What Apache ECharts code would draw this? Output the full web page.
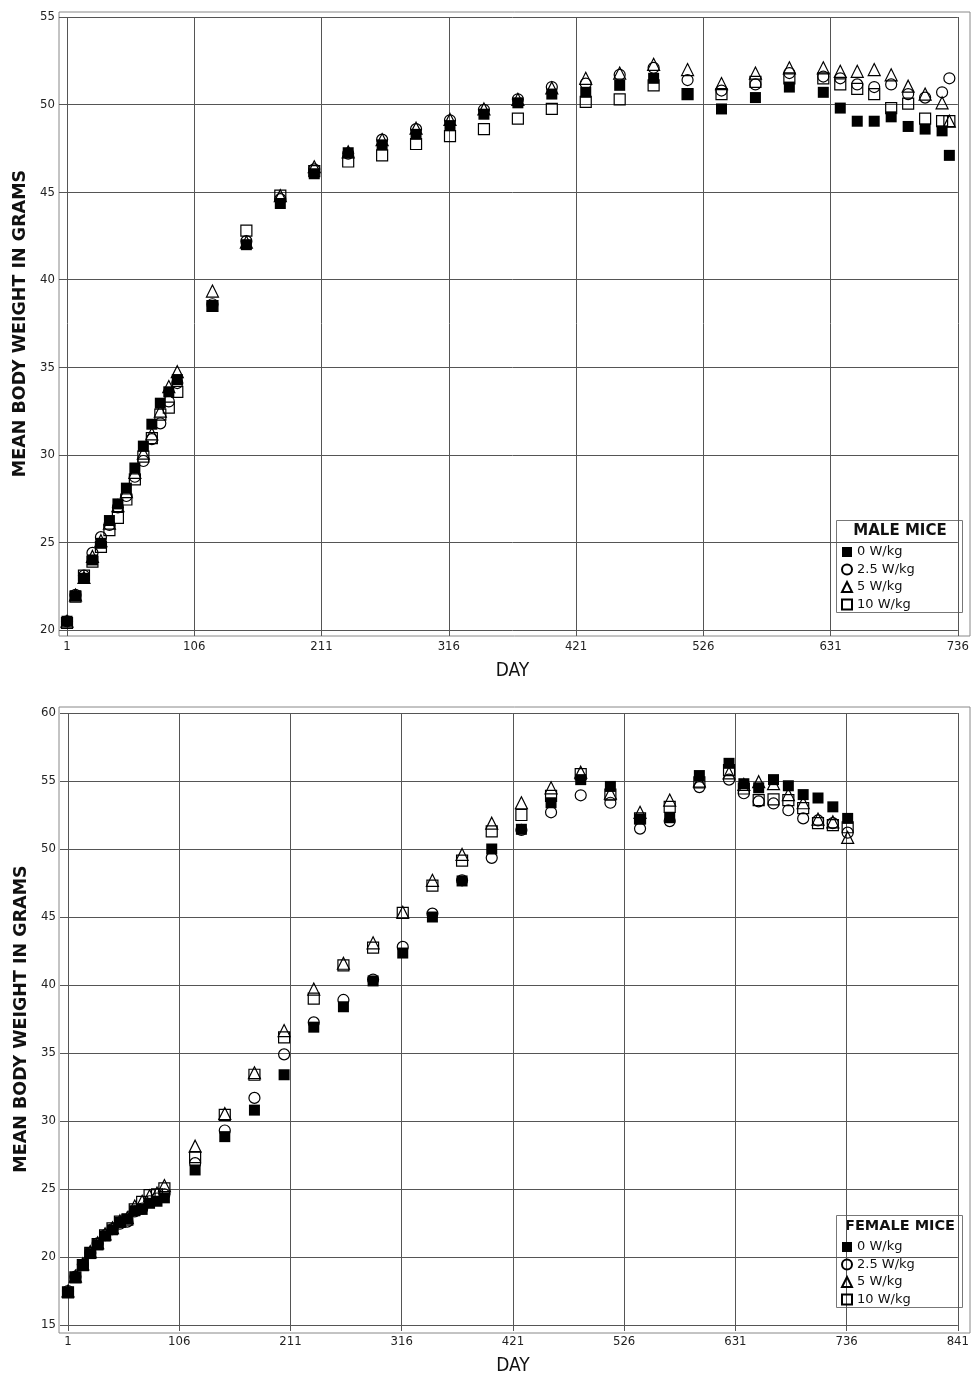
<!DOCTYPE html>
<html>
<head>
<meta charset="utf-8">
<script src="https://cdn.jsdelivr.net/npm/echarts@6/dist/echarts.min.js"></script>
<style>
  html, body { margin: 0; padding: 0; background: #fff; }
  #chart { width: 972px; height: 1377px; }
</style>
</head>
<body>
<div id="chart"></div>
<script>
// ---- data ----
const seriesNames = ["0 W/kg", "2.5 W/kg", "5 W/kg", "10 W/kg"];

// MALE MICE
const maleDays = [1, 8, 15, 22, 29, 36, 43, 50, 57, 64, 71, 78, 85, 92, 121, 149, 177, 205, 233, 261, 289, 317, 345, 373, 401, 429, 457, 485, 513, 541, 569, 597, 625, 639, 653, 667, 681, 695, 709, 723, 729];
const male0 = [20.5, 21.95, 22.95, 24.0, 24.95, 26.25, 27.2, 28.1, 29.25, 30.5, 31.75, 32.95, 33.6, 34.3, 38.5, 42.0, 44.35, 46.05, 47.25, 47.7, 48.3, 48.8, 49.45, 50.1, 50.6, 50.7, 51.1, 51.5, 50.6, 49.75, 50.4, 51.0, 50.7, 49.8, 49.05, 49.05, 49.3, 48.75, 48.6, 48.5, 47.1];
const male25 = [20.5, 22.0, 23.1, 24.4, 25.3, 26.0, 27.0, 27.65, 28.75, 29.65, 30.9, 31.8, 33.05, 34.1, 38.6, 42.2, 44.6, 46.3, 47.2, 48.0, 48.6, 49.1, 49.7, 50.3, 51.0, 51.2, 51.7, 52.1, 51.4, 50.8, 51.15, 51.8, 51.6, 51.5, 51.15, 51.0, 51.15, 50.6, 50.4, 50.7, 51.5];
const male5 = [20.5, 22.0, 23.0, 24.2, 25.1, 26.1, 27.1, 27.9, 29.0, 30.1, 31.2, 32.5, 33.9, 34.75, 39.35, 42.15, 44.8, 46.45, 47.3, 48.0, 48.65, 49.15, 49.75, 50.3, 50.95, 51.5, 51.8, 52.3, 52.0, 51.2, 51.8, 52.1, 52.1, 51.9, 51.9, 52.0, 51.7, 51.05, 50.6, 50.1, 49.05];
const male10 = [20.4, 21.9, 23.1, 23.9, 24.75, 25.7, 26.4, 27.45, 28.6, 29.9, 30.95, 32.3, 32.7, 33.6, 38.5, 42.8, 44.8, 46.2, 46.75, 47.1, 47.75, 48.2, 48.6, 49.2, 49.75, 50.15, 50.3, 51.1, 50.6, 50.6, 51.3, 51.5, 51.5, 51.15, 50.9, 50.6, 49.8, 50.05, 49.2, 49.05, 49.05];

// FEMALE MICE
const femaleDays = [1, 8, 15, 22, 29, 36, 43, 50, 57, 64, 71, 78, 85, 92, 121, 149, 177, 205, 233, 261, 289, 317, 345, 373, 401, 429, 457, 485, 513, 541, 569, 597, 625, 639, 653, 667, 681, 695, 709, 723, 737];
const female0 = [17.4, 18.5, 19.4, 20.25, 20.9, 21.55, 22.0, 22.55, 22.8, 23.4, 23.5, 23.95, 24.1, 24.35, 26.4, 28.85, 30.8, 33.4, 36.9, 38.4, 40.3, 42.35, 45.0, 47.65, 50.0, 51.45, 53.4, 55.1, 54.6, 52.2, 52.3, 55.4, 56.3, 54.8, 54.5, 55.1, 54.65, 54.0, 53.75, 53.1, 52.25];
const female25 = [17.5, 18.55, 19.45, 20.3, 21.0, 21.6, 22.05, 22.45, 22.6, 23.35, 23.55, 24.1, 24.3, 24.6, 26.9, 29.3, 31.7, 34.9, 37.25, 38.9, 40.4, 42.8, 45.25, 47.7, 49.35, 51.4, 52.7, 53.95, 53.4, 51.5, 52.05, 54.55, 55.1, 54.1, 53.5, 53.35, 52.85, 52.25, 52.1, 51.9, 51.2];
const female5 = [17.5, 18.6, 19.5, 20.4, 21.05, 21.7, 22.15, 22.65, 22.9, 23.75, 24.1, 24.5, 24.7, 25.25, 28.15, 30.55, 33.55, 36.65, 39.7, 41.6, 43.1, 45.35, 47.7, 49.6, 51.9, 53.4, 54.5, 55.65, 54.1, 52.7, 53.6, 55.0, 55.6, 54.75, 54.95, 54.8, 54.0, 53.4, 52.2, 52.0, 50.85];
const female10 = [17.4, 18.5, 19.4, 20.3, 20.95, 21.6, 22.1, 22.6, 22.75, 23.5, 24.05, 24.55, 24.6, 25.05, 27.35, 30.45, 33.4, 36.15, 39.0, 41.45, 42.75, 45.3, 47.3, 49.15, 51.3, 52.5, 53.9, 55.5, 54.0, 52.25, 53.1, 54.9, 55.8, 54.45, 53.6, 53.65, 53.6, 53.0, 51.9, 51.75, 51.6];

// axis ranges / ticks
const maleX = { min: 1, max: 736, step: 105 };
const maleY = { min: 20, max: 55, step: 5 };
const femaleX = { min: 1, max: 841, step: 105 };
const femaleY = { min: 15, max: 60, step: 5 };

// ---- styling ----
const tickFont = "'DejaVu Sans Condensed', 'DejaVu Sans', sans-serif";
const gridColor = "#555";
const frameColor = "#888";
const symbols = ["rect", "circle", "triangle", "rect"];
const symbolSizes = [11, 11, 12, 11];
const filled = [true, false, false, false];

const zip = (xs, ys) => xs.map((x, i) => [x, ys[i]]);

function frameGrid(left, top, width, height) {
  return { left, top, width, height, show: true, borderColor: frameColor, borderWidth: 1, backgroundColor: "transparent" };
}

function valueXAxis(gridIndex, r) {
  return {
    gridIndex, type: "value", min: r.min, max: r.max, interval: r.step,
    axisLine: { show: false },
    axisTick: { show: true, length: 6, lineStyle: { color: gridColor } },
    splitLine: { show: true, lineStyle: { color: gridColor, width: 1 } },
    axisLabel: { margin: 10, fontSize: 13, color: "#222", fontFamily: tickFont },
    name: "DAY", nameLocation: "middle", nameGap: 32,
    nameTextStyle: { fontSize: 19, color: "#111", fontFamily: tickFont }
  };
}

function valueYAxis(gridIndex, r) {
  return {
    gridIndex, type: "value", min: r.min, max: r.max, interval: r.step,
    axisLine: { show: false },
    axisTick: { show: true, length: 8, lineStyle: { color: gridColor } },
    splitLine: { show: true, lineStyle: { color: gridColor, width: 1 } },
    axisLabel: { margin: 12, fontSize: 13, color: "#222", fontFamily: tickFont },
    name: "MEAN BODY WEIGHT IN GRAMS", nameLocation: "middle", nameGap: 38,
    nameTextStyle: { fontSize: 17.5, fontWeight: "bold", color: "#111", fontFamily: "'DejaVu Sans', sans-serif" }
  };
}

function hiddenAxis(gridIndex) {
  return { gridIndex, type: "value", show: false, min: 0, max: 1 };
}

function makeSeries(axisIdx, days, groups) {
  return groups.map((vals, i) => ({
    name: seriesNames[i],
    type: "scatter",
    xAxisIndex: axisIdx, yAxisIndex: axisIdx,
    clip: false,
    symbol: symbols[i],
    symbolSize: symbolSizes[i],
    itemStyle: filled[i]
      ? { color: "#000", borderColor: "#000", borderWidth: 0, opacity: 1 }
      : { color: "rgba(255,255,255,0)", borderColor: "#000", borderWidth: 1.2, opacity: 1 },
    data: zip(days, vals)
  }));
}

function legendBlock(top) {
  return {
    orient: "vertical", left: 841, top: top,
    itemWidth: 10, itemHeight: 10, itemGap: 3.5, padding: 0,
    selectedMode: false,
    data: seriesNames,
    textStyle: { fontSize: 13, color: "#111", fontFamily: "'DejaVu Sans', sans-serif", lineHeight: 14 }
  };
}

const chart = echarts.init(document.getElementById("chart"), null, { renderer: "canvas" });

chart.setOption({
  animation: false,
  backgroundColor: "#fff",
  grid: [
    frameGrid(59, 12, 911, 624),
    { left: 67, top: 17, width: 893, height: 613 },
    frameGrid(59, 707, 911, 626),
    { left: 68, top: 713, width: 890, height: 614 }
  ],
  xAxis: [hiddenAxis(0), valueXAxis(1, maleX), hiddenAxis(2), valueXAxis(3, femaleX)],
  yAxis: [hiddenAxis(0), valueYAxis(1, maleY), hiddenAxis(2), valueYAxis(3, femaleY)],
  legend: [legendBlock(545), legendBlock(1240)],
  graphic: [
    { type: "rect", shape: { x: 836.5, y: 520.5, width: 126, height: 92 }, style: { fill: "#fff", stroke: "#777", lineWidth: 1 }, z: 0 },
    { type: "text", x: 900, y: 524, style: { text: "MALE MICE", fontSize: 15, fontWeight: "bold", fill: "#111", align: "center", fontFamily: "'DejaVu Sans', sans-serif" } },
    { type: "rect", shape: { x: 836.5, y: 1215.5, width: 126, height: 92 }, style: { fill: "#fff", stroke: "#777", lineWidth: 1 }, z: 0 },
    { type: "text", x: 900, y: 1219, style: { text: "FEMALE MICE", fontSize: 14.5, fontWeight: "bold", fill: "#111", align: "center", fontFamily: "'DejaVu Sans', sans-serif" } }
  ],
  series: [
    ...makeSeries(1, maleDays, [male0, male25, male5, male10]),
    ...makeSeries(3, femaleDays, [female0, female25, female5, female10])
  ]
});
</script>
</body>
</html>
